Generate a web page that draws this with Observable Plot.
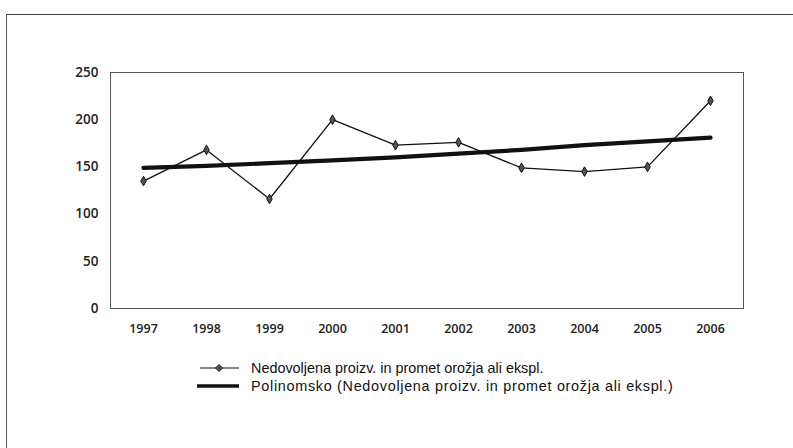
<!DOCTYPE html>
<html><head><meta charset="utf-8">
<script src="https://cdn.jsdelivr.net/npm/d3@7"></script>
<script src="https://cdn.jsdelivr.net/npm/@observablehq/plot@0.6"></script>
<style>
body{margin:0;background:#fff;}
#wrap{position:relative;width:793px;height:448px;overflow:hidden;background:#fff}
#frame{position:absolute;left:6px;top:14px;width:800px;height:450px;border-left:1.5px solid #555;border-top:1.5px solid #444}
#chart{position:absolute;left:0;top:0}
#legend{position:absolute;left:197px;top:359px;font-family:"Liberation Sans",Arial,sans-serif;font-size:14.4px;color:#111}
.row{display:flex;align-items:center;height:18px;white-space:nowrap}
.row svg{margin-right:11px}
.row.trend span{letter-spacing:0.7px}
</style>
</head><body>
<div id="wrap"><div id="frame"></div><div id="chart"></div><div id="legend"></div></div>
<script>
const years = ["1997","1998","1999","2000","2001","2002","2003","2004","2005","2006"];
const values = [135,168,116,200,173,176,149,145,150,220];
const trend = [149,151,154,157,160,164,168,173,177,181];
const yTicks = [0,50,100,150,200,250];
const seriesName = "Nedovoljena proizv. in promet orožja ali ekspl.";
const trendName = "Polinomsko (Nedovoljena proizv. in promet orožja ali ekspl.)";

const rows = years.map((year, i) => ({year, value: values[i], trend: trend[i]}));

const chart = Plot.plot({
  width: 793, height: 350,
  marginTop: 72, marginLeft: 110, marginRight: 50, marginBottom: 42,
  x: {type: "point", domain: years, padding: 0.5},
  y: {domain: [0, 250]},
  style: {fontFamily: "'Open Sans', sans-serif", fontSize: "12px", color: "#222", background: "transparent"},
  marks: [
    Plot.frame({stroke: "#555", strokeWidth: 1}),
    Plot.axisX({tickSize: 0, tickPadding: 16, label: null, fontSize: 12.5, fontWeight: 600}),
    Plot.axisY({ticks: yTicks, tickSize: 0, tickPadding: 12, label: null, fontSize: 13.5, fontWeight: 600}),
    Plot.line(rows, {x: "year", y: "trend", stroke: "#111", strokeWidth: 4.2}),
    Plot.line(rows, {x: "year", y: "value", stroke: "#111", strokeWidth: 1.3}),
    Plot.dot(rows, {x: "year", y: "value", symbol: "diamond", r: 2.9, fill: "#555", stroke: "#111", strokeWidth: 1})
  ]
});
document.getElementById("chart").appendChild(chart);

const legend = document.getElementById("legend");
function addRow(label, kind) {
  const row = document.createElement("div");
  row.className = "row " + kind;
  const s = d3.create("svg").attr("width", 43).attr("height", 12);
  if (kind === "series") {
    s.append("line").attr("x1", 3).attr("x2", 42).attr("y1", 6).attr("y2", 6).attr("stroke", "#111").attr("stroke-width", 1.2);
    s.append("path").attr("d", "M22,2.5L25.5,6L22,9.5L18.5,6Z").attr("fill", "#555").attr("stroke", "#111");
  } else {
    s.append("line").attr("x1", 0).attr("x2", 42).attr("y1", 6).attr("y2", 6).attr("stroke", "#111").attr("stroke-width", 3.5);
  }
  row.appendChild(s.node());
  const t = document.createElement("span");
  t.textContent = label;
  row.appendChild(t);
  legend.appendChild(row);
}
addRow(seriesName, "series");
addRow(trendName, "trend");
</script>
</body></html>
